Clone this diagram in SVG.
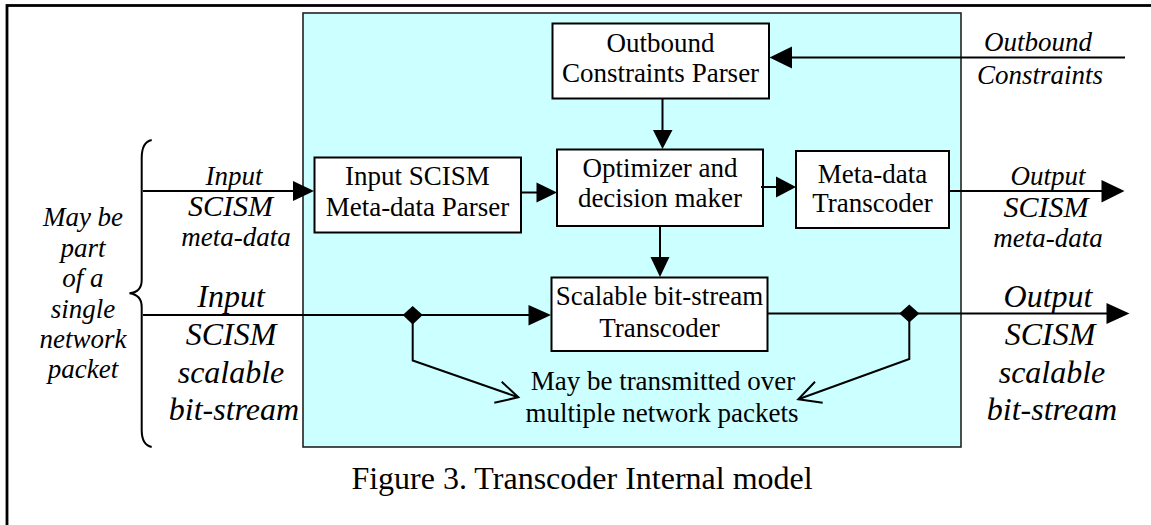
<svg xmlns="http://www.w3.org/2000/svg" width="1151" height="525" viewBox="0 0 1151 525">
  <style>
    .box { fill: #ffffff; stroke: #000000; stroke-width: 2; }
    .lbl { font-family: "Liberation Serif", "Times New Roman", serif; font-size: 27px; fill: #000000; text-anchor: middle; }
    .it { font-family: "Liberation Serif", "Times New Roman", serif; font-style: italic; font-size: 27px; fill: #000000; text-anchor: middle; }
    .itcap { font-size: 30px; }
    .itbig { font-family: "Liberation Serif", "Times New Roman", serif; font-style: italic; font-size: 32px; fill: #000000; text-anchor: middle; }
    .cap { font-family: "Liberation Serif", "Times New Roman", serif; font-size: 32px; fill: #000000; text-anchor: middle; }
    .wire { fill: none; stroke: #000000; stroke-width: 2; }
    .head { fill: #000000; stroke: none; }
  </style>

  <!-- frame (only top and left edges fall inside the canvas) -->
  <rect x="7" y="5.5" width="1170" height="540" fill="#ffffff" stroke="#000000" stroke-width="2.8"/>

  <!-- transcoder panel -->
  <rect id="panel" x="303" y="13" width="658" height="434" fill="#ccffff" stroke="#222222" stroke-width="1.6"/>

  <g id="outbound-parser">
    <rect class="box" x="552.5" y="23.5" width="216.5" height="75"/>
    <text class="lbl" x="660.5" y="52">Outbound</text>
    <text class="lbl" x="660.5" y="82">Constraints Parser</text>
  </g>

  <g id="input-parser">
    <rect class="box" x="314.5" y="157.5" width="206.5" height="75"/>
    <text class="lbl" x="417.5" y="185">Input SCISM</text>
    <text class="lbl" x="417.5" y="216">Meta-data Parser</text>
  </g>

  <g id="optimizer">
    <rect class="box" x="557" y="149.5" width="206" height="76.5"/>
    <text class="lbl" x="660" y="177">Optimizer and</text>
    <text class="lbl" x="660" y="207">decision maker</text>
  </g>

  <g id="metadata-transcoder">
    <rect class="box" x="796" y="151" width="153" height="77"/>
    <text class="lbl" x="872.5" y="183">Meta-data</text>
    <text class="lbl" x="872.5" y="212">Transcoder</text>
  </g>

  <g id="bitstream-transcoder">
    <rect class="box" x="551.5" y="277.5" width="216" height="73.5"/>
    <text class="lbl" x="659.5" y="305">Scalable bit-stream</text>
    <text class="lbl" x="659.5" y="337">Transcoder</text>
  </g>

  <g id="packets-note">
    <text class="lbl" x="663" y="390">May be transmitted over</text>
    <text class="lbl" x="662" y="422">multiple network packets</text>
  </g>

  <g id="brace-note">
    <path class="wire" stroke-width="1.8" d="M151.7,140 Q141.7,142 141.7,158 L141.7,280 Q141.7,292 129.5,293.3 Q141.7,295 141.7,307 L141.7,430 Q141.7,445 151.7,447"/>
    <text class="it" x="83" y="226">May be</text>
    <text class="it" x="83" y="257">part</text>
    <text class="it" x="83" y="287">of a</text>
    <text class="it" x="83" y="318">single</text>
    <text class="it" x="83" y="348">network</text>
    <text class="it" x="83" y="378">packet</text>
  </g>

  <g id="io-labels">
    <text class="it" x="234" y="185">Input</text>
    <text class="it itcap" x="230.5" y="216">SCISM</text>
    <text class="it" x="236" y="246">meta-data</text>
    <text class="it" x="1048" y="185">Output</text>
    <text class="it itcap" x="1046" y="217">SCISM</text>
    <text class="it" x="1048" y="247">meta-data</text>
    <text class="it" x="1038" y="51">Outbound</text>
    <text class="it" x="1040" y="84">Constraints</text>
    <text class="itbig" x="231" y="307">Input</text>
    <text class="itbig" x="231" y="345">SCISM</text>
    <text class="itbig" x="231" y="383">scalable</text>
    <text class="itbig" x="234" y="420">bit-stream</text>
    <text class="itbig" x="1048" y="307">Output</text>
    <text class="itbig" x="1050" y="345">SCISM</text>
    <text class="itbig" x="1052" y="383">scalable</text>
    <text class="itbig" x="1052" y="420">bit-stream</text>
  </g>

  <g id="connectors">
    <!-- input meta-data into parser -->
    <line class="wire" x1="143" y1="191" x2="296" y2="191"/>
    <polygon class="head" points="314,191 293,181 293,201"/>
    <!-- parser to optimizer -->
    <line class="wire" x1="521" y1="192.5" x2="540" y2="192.5"/>
    <polygon class="head" points="557,192.5 536.5,182.5 536.5,202.5"/>
    <!-- optimizer to meta-data transcoder -->
    <line class="wire" x1="761" y1="187" x2="779" y2="187"/>
    <polygon class="head" points="796,187 776,176.5 776,197.5"/>
    <!-- meta-data output -->
    <line class="wire" x1="949" y1="191" x2="1105" y2="191"/>
    <polygon class="head" points="1124.5,191 1101.5,180 1101.5,202.5"/>
    <!-- outbound constraints input -->
    <line class="wire" x1="1125" y1="57.5" x2="788" y2="57.5"/>
    <polygon class="head" points="769.5,57.5 792,46.5 792,68.5"/>
    <!-- outbound parser to optimizer -->
    <line class="wire" x1="662.5" y1="98.5" x2="662.5" y2="133"/>
    <polygon class="head" points="662.5,149 653,130 672.5,130"/>
    <!-- optimizer to bit-stream transcoder -->
    <line class="wire" x1="660" y1="226" x2="660" y2="260"/>
    <polygon class="head" points="660,277 650.5,257 669.5,257"/>
    <!-- bit-stream input -->
    <line class="wire" x1="143" y1="315" x2="532" y2="315"/>
    <polygon class="head" points="551,315 528.5,305 528.5,325.5"/>
    <polygon class="head" points="402.7,315 412.7,306 422.7,315 412.7,324.5"/>
    <!-- bit-stream output -->
    <line class="wire" x1="767.5" y1="313.5" x2="1110" y2="313.5"/>
    <polygon class="head" points="1129.5,313.5 1106.5,303 1106.5,324"/>
    <polygon class="head" points="899.3,313.5 909.3,304.5 919.3,313.5 909.3,322.5"/>
    <!-- callouts to the packets note -->
    <polyline class="wire" points="412.7,315 412.7,360.5 518.3,397.3"/>
    <polyline class="wire" points="501.7,381.7 518.3,397.3 494.3,402.7"/>
    <polyline class="wire" points="909.3,313.5 909.3,359 798.3,399.3"/>
    <polyline class="wire" points="815,381.7 798.3,399.3 822.7,402.7"/>
  </g>

  <text id="caption" class="cap" x="582" y="489">Figure 3. Transcoder Internal model</text>
</svg>
